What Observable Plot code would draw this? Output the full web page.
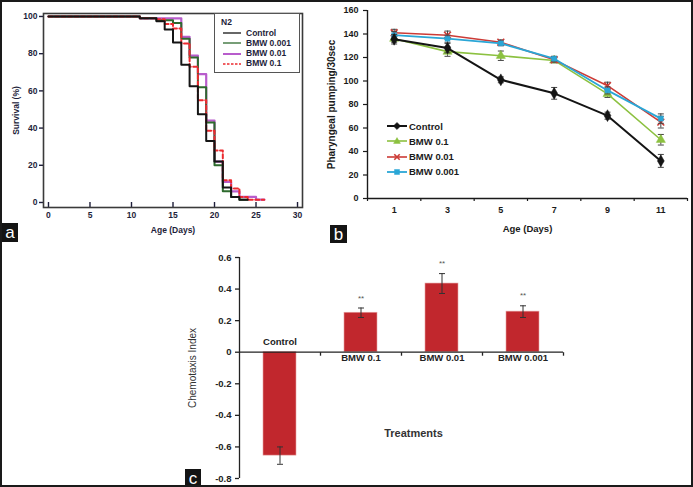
<!DOCTYPE html>
<html><head><meta charset="utf-8">
<script src="https://cdn.jsdelivr.net/npm/d3@7"></script>
<script src="https://cdn.jsdelivr.net/npm/@observablehq/plot@0.6"></script>
<style>
html,body{margin:0;padding:0;background:#fff;}
#fig{position:relative;width:693px;height:487px;overflow:hidden;background:#fff;font-family:"Liberation Sans",Arial,sans-serif;}
#border{position:absolute;left:0;top:0;width:693px;height:487px;box-sizing:border-box;border:2px solid #1a1a1a;pointer-events:none;z-index:10;}
.panel{position:absolute;}
.tag{position:absolute;background:#141414;color:#fff;font:17px "Liberation Sans",Arial,sans-serif;display:flex;align-items:center;justify-content:center;line-height:1;z-index:5;}
.leg{position:absolute;font-weight:bold;white-space:nowrap;}
</style></head>
<body>
<div id="fig">
  <div id="panelA" class="panel" style="left:0;top:0;"></div>
  <div id="panelB" class="panel" style="left:320px;top:0;"></div>
  <div id="panelC" class="panel" style="left:160px;top:245px;"></div>
  <div id="legendA" style="position:absolute;left:214px;top:13px;width:86px;height:60px;box-sizing:border-box;border:1.5px solid #555;background:#fff;"></div>
  <div id="legendB" style="position:absolute;left:385px;top:117px;width:120px;height:64px;"></div>
  <div class="tag" style="left:2px;top:223px;width:16px;height:19px;">a</div>
  <div class="tag" style="left:330px;top:225px;width:17px;height:18px;">b</div>
  <div class="tag" style="left:185px;top:469px;width:16px;height:18px;">c</div>
  <div id="border"></div>
</div>
<script>
// ---------- Panel a: survival (Kaplan-Meier style steps) ----------
const survDaysControl = [0, 11, 13, 14, 15, 16, 17, 18, 19, 20, 21, 22, 23, 24];
const survControl     = [100, 99, 97.5, 93, 86, 74, 62.5, 47.5, 33, 22, 8, 3, 1.5, 1.5];
const survDaysB0001   = [0, 11, 13, 15, 16, 17, 18, 19, 20, 21, 22, 23, 24];
const survB0001       = [100, 99, 98, 96.5, 88, 78, 62, 43, 20, 6, 3, 1.5, 1.5];
const survDaysB001    = [0, 11, 16, 17, 18, 19, 20, 21, 22, 23, 25, 26];
const survB001        = [100, 99, 89, 79, 69, 44, 22, 11, 6, 3, 1.5, 1.5];
const survDaysB01     = [0, 11, 13, 14, 15, 16, 17, 18, 19, 20, 21, 22, 23, 24, 26];
const survB01         = [100, 99, 98.5, 96, 93.5, 85.5, 73, 55, 38.5, 28, 12, 7.5, 3, 1.5, 1.5];
const survSeriesNames = ["Control", "BMW 0.001", "BMW 0.01", "BMW 0.1"];
const ageTicksA  = [0, 5, 10, 15, 20, 25, 30];
const survTicks  = [0, 20, 40, 60, 80, 100];

// ---------- Panel b: pharyngeal pumping ----------
const ages = [1, 3, 5, 7, 9, 11];
const ageBounds = [0, 2, 4, 6, 8, 10, 12];
const pumpControl    = [135.5, 128, 101, 89.5, 70.5, 32];
const pumpControlErr = [4, 4, 2.5, 5, 3, 5.5];
const pumpB01        = [136, 125, 121.5, 117.5, 89, 50];
const pumpB01Err     = [3, 4, 4, 2, 3, 4.5];
const pumpB001       = [141, 139, 133, 118, 96, 65];
const pumpB001Err    = [3, 3.5, 2, 2, 3, 5];
const pumpB0001      = [139, 136, 132, 119, 92, 68];
const pumpB0001Err   = [3, 3, 2, 2, 3, 4];
const pumpSeriesNames = ["Control", "BMW 0.1", "BMW 0.01", "BMW 0.001"];
const pumpTicks = [0, 20, 40, 60, 80, 100, 120, 140, 160];

// ---------- Panel c: chemotaxis ----------
const treatments = ["Control", "BMW 0.1", "BMW 0.01", "BMW 0.001"];
const chemoIndex = [-0.655, 0.25, 0.435, 0.257];
const chemoErr   = [0.055, 0.03, 0.063, 0.037];
const chemoSig   = ["", "**", "**", "**"];
const chemoTicks = [-0.8, -0.6, -0.4, -0.2, 0, 0.2, 0.4, 0.6];

const FONT = "'Liberation Sans', Arial, sans-serif";

// ===== Panel a =====
const styleA = {
  Control:   {stroke: "#151515", width: 2, dash: null},
  "BMW 0.001": {stroke: "#2d6a2d", width: 2, dash: null},
  "BMW 0.01":  {stroke: "#b85ccc", width: 2.2, dash: null},
  "BMW 0.1":   {stroke: "#ec2a2f", width: 2, dash: "4,2.5"}
};
const survDays = [survDaysControl, survDaysB0001, survDaysB001, survDaysB01];
const survVals = [survControl, survB0001, survB001, survB01];
const rowsA = survSeriesNames.flatMap((name, k) =>
  survDays[k].map((d, i) => ({series: name, day: d, surv: survVals[k][i]})));
const drawOrderA = ["BMW 0.01", "BMW 0.001", "BMW 0.1", "Control"];

const plotA = Plot.plot({
  width: 330, height: 245,
  marginLeft: 43, marginRight: 28, marginTop: 13, marginBottom: 38,
  style: {background: "transparent", color: "#1e1e3a", fontFamily: FONT, fontSize: "8.5px", fontWeight: "bold"},
  x: {domain: [-0.6, 30.6]},
  y: {domain: [-2.7, 101.6]},
  marks: [
    Plot.axisX({ticks: ageTicksA, tickSize: -5, tickPadding: 9, tickFormat: d => String(d), label: null, strokeWidth: 1.4}),
    Plot.axisY({ticks: survTicks, tickSize: 4, tickPadding: 2, tickFormat: d => String(d), label: null, strokeWidth: 1.4}),
    ...drawOrderA.map(name => Plot.line(rowsA.filter(r => r.series === name), {
      x: "day", y: "surv", curve: "step-after",
      stroke: styleA[name].stroke, strokeWidth: styleA[name].width,
      strokeDasharray: styleA[name].dash
    })),
    Plot.frame({stroke: "#3a3a3a", strokeWidth: 1.6}),
    Plot.text(["Survival (%)"], {text: d => d, frameAnchor: "left", dx: -27, rotate: -90, textAnchor: "middle", lineAnchor: "middle", fontSize: 8.5}),
    Plot.text(["Age (Days)"], {text: d => d, frameAnchor: "bottom", dy: 23, textAnchor: "middle", lineAnchor: "middle", fontSize: 8.5})
  ]
});
document.getElementById("panelA").appendChild(plotA);

// legend a
(function(){
  const box = document.getElementById("legendA");
  const t = document.createElement("div");
  t.className = "leg";
  t.style.cssText = "left:6px;top:3px;font-size:8.5px;color:#1e1e3a;";
  t.textContent = "N2";
  box.appendChild(t);
  survSeriesNames.forEach((name, i) => {
    const y = 19 + i * 10.3;
    const s = styleA[name];
    const svg = document.createElementNS("http://www.w3.org/2000/svg", "svg");
    svg.setAttribute("width", 20); svg.setAttribute("height", 6);
    svg.style.cssText = `position:absolute;left:8px;top:${y - 3}px;`;
    const ln = document.createElementNS("http://www.w3.org/2000/svg", "line");
    ln.setAttribute("x1", 0); ln.setAttribute("x2", 18); ln.setAttribute("y1", 3); ln.setAttribute("y2", 3);
    ln.setAttribute("stroke", s.stroke); ln.setAttribute("stroke-width", name === "BMW 0.01" ? 2 : 1.3);
    if (s.dash) ln.setAttribute("stroke-dasharray", "2.5,1.5");
    svg.appendChild(ln); box.appendChild(svg);
    const lab = document.createElement("div");
    lab.className = "leg";
    lab.style.cssText = `left:31px;top:${y - 5.5}px;font-size:8.5px;line-height:11px;color:#1e1e3a;`;
    lab.textContent = name;
    box.appendChild(lab);
  });
})();

// ===== Panel b =====
const styleB = {
  Control:     {color: "#141414", symbol: "diamond", fill: true, r: 3.6, w: 2},
  "BMW 0.1":   {color: "#8cc140", symbol: "triangle", fill: true, r: 3.4, w: 1.6},
  "BMW 0.01":  {color: "#cc3b36", symbol: "times", fill: false, r: 3.2, w: 1.6},
  "BMW 0.001": {color: "#2aa6d6", symbol: "square", fill: true, r: 2.8, w: 1.8}
};
const pumpVals = [pumpControl, pumpB01, pumpB001, pumpB0001];
const pumpErrs = [pumpControlErr, pumpB01Err, pumpB001Err, pumpB0001Err];
const rowsB = pumpSeriesNames.flatMap((name, k) =>
  ages.map((a, i) => ({series: name, age: a, v: pumpVals[k][i], e: pumpErrs[k][i]})));
const capSym = {draw(ctx) { ctx.moveTo(-3, 0); ctx.lineTo(3, 0); }};
const drawOrderB = ["BMW 0.1", "BMW 0.01", "BMW 0.001", "Control"];

const plotB = Plot.plot({
  width: 373, height: 245,
  marginLeft: 47, marginRight: 6, marginTop: 10, marginBottom: 47,
  style: {background: "transparent", color: "#1a1a1a", fontFamily: FONT, fontSize: "9px", fontWeight: "bold"},
  x: {domain: [ageBounds[0], ageBounds[ageBounds.length - 1]]},
  y: {domain: [pumpTicks[0], pumpTicks[pumpTicks.length - 1]]},
  marks: [
    Plot.axisX({ticks: ageBounds, tickSize: 3, tickFormat: () => "", label: null, strokeWidth: 1.2}),
    Plot.axisX({ticks: ages, tickSize: 0, tickPadding: 8, tickFormat: d => String(d), label: null}),
    Plot.axisY({ticks: pumpTicks, tickSize: 4, tickPadding: 5, tickFormat: d => String(d), label: null, strokeWidth: 1.2}),
    Plot.ruleY([pumpTicks[0]], {stroke: "#1a1a1a", strokeWidth: 1.4}),
    Plot.ruleX([ageBounds[0]], {y1: pumpTicks[0], y2: pumpTicks[pumpTicks.length - 1], stroke: "#1a1a1a", strokeWidth: 1.4}),
    ...drawOrderB.flatMap(name => {
      const s = styleB[name];
      const d = rowsB.filter(r => r.series === name);
      return [
        Plot.ruleX(d, {x: "age", y1: r => r.v - r.e, y2: r => r.v + r.e, stroke: "#444", strokeWidth: 1}),
        Plot.dot(d, {x: "age", y: r => r.v - r.e, symbol: capSym, fill: "none", stroke: "#444", strokeWidth: 1}),
        Plot.dot(d, {x: "age", y: r => r.v + r.e, symbol: capSym, fill: "none", stroke: "#444", strokeWidth: 1}),
        Plot.line(d, {x: "age", y: "v", stroke: s.color, strokeWidth: s.w}),
        Plot.dot(d, {x: "age", y: "v", symbol: s.symbol, r: s.r,
          fill: s.fill ? s.color : "none", stroke: s.color, strokeWidth: s.fill ? 0.5 : 1.6})
      ];
    }),
    Plot.text(["Pharyngeal pumping/30sec"], {text: d => d, frameAnchor: "left", dx: -36, rotate: -90, textAnchor: "middle", lineAnchor: "middle", fontSize: 10}),
    Plot.text(["Age (Days)"], {text: d => d, frameAnchor: "bottom", dy: 30, textAnchor: "middle", lineAnchor: "middle", fontSize: 9.5})
  ]
});
document.getElementById("panelB").appendChild(plotB);

// legend b
(function(){
  const box = document.getElementById("legendB");
  const symPaths = {
    Control: "M10,-3.6 L13.6,0 L10,3.6 L6.4,0 Z",
    "BMW 0.1": "M10,-3.4 L13.4,2.4 L6.6,2.4 Z",
    "BMW 0.01": "M7.3,-2.7 L12.7,2.7 M12.7,-2.7 L7.3,2.7",
    "BMW 0.001": "M7.5,-2.5 L12.5,-2.5 L12.5,2.5 L7.5,2.5 Z"
  };
  pumpSeriesNames.forEach((name, i) => {
    const s = styleB[name];
    const y = 9 + i * 15.3;
    const svg = document.createElementNS("http://www.w3.org/2000/svg", "svg");
    svg.setAttribute("width", 22); svg.setAttribute("height", 10);
    svg.setAttribute("viewBox", "0 -5 22 10");
    svg.style.cssText = `position:absolute;left:2px;top:${y - 5}px;overflow:visible;`;
    const ln = document.createElementNS("http://www.w3.org/2000/svg", "line");
    ln.setAttribute("x1", 0); ln.setAttribute("x2", 20); ln.setAttribute("y1", 0); ln.setAttribute("y2", 0);
    ln.setAttribute("stroke", s.color); ln.setAttribute("stroke-width", s.w);
    svg.appendChild(ln);
    const p = document.createElementNS("http://www.w3.org/2000/svg", "path");
    p.setAttribute("d", symPaths[name]);
    p.setAttribute("fill", s.fill ? s.color : "none");
    p.setAttribute("stroke", s.color); p.setAttribute("stroke-width", s.fill ? 0.5 : 1.6);
    svg.appendChild(p);
    box.appendChild(svg);
    const lab = document.createElement("div");
    lab.className = "leg";
    lab.style.cssText = `left:24px;top:${y - 6.5}px;font-size:9.5px;line-height:13px;color:#1a1a1a;`;
    lab.textContent = name;
    box.appendChild(lab);
  });
})();

// ===== Panel c =====
const rowsC = treatments.map((t, i) => ({t, v: chemoIndex[i], e: chemoErr[i], sig: chemoSig[i]}));
const vTick = {draw(ctx) { ctx.moveTo(0, 0); ctx.lineTo(0, 3.5); }};
const capC = {draw(ctx) { ctx.moveTo(-3, 0); ctx.lineTo(3, 0); }};
const halfStep = 40.5;

const plotC = Plot.plot({
  width: 410, height: 240,
  marginLeft: 79, marginRight: 7, marginTop: 12, marginBottom: 7,
  style: {background: "transparent", color: "#222", fontFamily: FONT, fontSize: "9.5px", fontWeight: "bold"},
  x: {domain: treatments, paddingInner: 0.59, paddingOuter: 0.295, axis: null},
  y: {domain: [chemoTicks[0], chemoTicks[chemoTicks.length - 1]]},
  marks: [
    Plot.axisY({ticks: chemoTicks, tickSize: 4, tickPadding: 4, tickFormat: d => d === 0 ? "0" : d.toFixed(1), label: null, strokeWidth: 1.3}),
    Plot.ruleX([treatments[0]], {dx: -halfStep, y1: chemoTicks[0], y2: chemoTicks[chemoTicks.length - 1], stroke: "#222", strokeWidth: 1.3}),
    Plot.barY(rowsC, {x: "t", y: "v", fill: "#c1272d", stroke: "#e6a0a0", strokeWidth: 0.6}),
    Plot.ruleY([0], {stroke: "#222", strokeWidth: 1.3}),
    Plot.dot(rowsC, {x: "t", y: 0, dx: halfStep, symbol: vTick, fill: "none", stroke: "#222", strokeWidth: 1.3}),
    Plot.ruleX(rowsC, {x: "t", y1: r => r.v - r.e, y2: r => r.v + r.e, stroke: "#333", strokeWidth: 1}),
    Plot.dot(rowsC, {x: "t", y: r => r.v - r.e, symbol: capC, fill: "none", stroke: "#333", strokeWidth: 1}),
    Plot.dot(rowsC, {x: "t", y: r => r.v + r.e, symbol: capC, fill: "none", stroke: "#333", strokeWidth: 1}),
    Plot.text(rowsC, {x: "t", y: r => r.v + r.e, text: "sig", dy: -10, fontSize: 8, fontWeight: "normal", fill: "#555"}),
    Plot.text(rowsC.filter(r => r.v < 0), {x: "t", y: 0, text: "t", dy: -10, fontSize: 9.5}),
    Plot.text(rowsC.filter(r => r.v >= 0), {x: "t", y: 0, text: "t", dy: 6, fontSize: 9.5}),
    Plot.text(["Chemotaxis Index"], {text: d => d, frameAnchor: "left", dx: -47, rotate: -90, textAnchor: "middle", lineAnchor: "middle", fontSize: 10, fontWeight: "normal", fill: "#333"}),
    Plot.text(["Treatments"], {text: d => d, frameAnchor: "bottom", dx: 12, dy: -45, textAnchor: "middle", lineAnchor: "middle", fontSize: 11, fill: "#333"})
  ]
});
document.getElementById("panelC").appendChild(plotC);
</script>
</body></html>
